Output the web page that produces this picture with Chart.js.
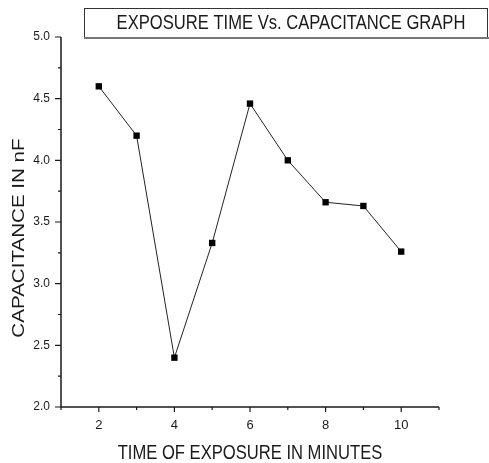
<!DOCTYPE html>
<html>
<head>
<meta charset="utf-8">
<title>Exposure Time Vs. Capacitance Graph</title>
<script src="https://cdn.jsdelivr.net/npm/chart.js@4.4.1/dist/chart.umd.min.js"></script>
<style>
html, body { margin: 0; padding: 0; background: #fff; }
#wrap { width: 489px; height: 463px; }
</style>
</head>
<body>
<div id="wrap"><canvas id="capChart" width="489" height="463"></canvas></div>
<script>

// ================================
// DATA
// ================================

const exposureMinutes = [2, 3, 4, 5, 6, 7, 8, 9, 10];
const capacitanceNF = [4.60, 4.20, 2.40, 3.33, 4.46, 4.00, 3.66, 3.63, 3.26];

const xTickValues = [2, 4, 6, 8, 10];
const xMinorValues = [1, 3, 5, 7, 9, 11];
const yTickValues = [2.0, 2.5, 3.0, 3.5, 4.0, 4.5, 5.0];
const yMinorValues = [2.25, 2.75, 3.25, 3.75, 4.25, 4.75];

const chartTitle = 'EXPOSURE TIME Vs. CAPACITANCE GRAPH';
const xTitle = 'TIME OF EXPOSURE IN MINUTES';
const yTitle = 'CAPACITANCE IN nF';


const sansFont = "'Liberation Sans', Arial, sans-serif";
const ink = '#1a1a1a';

Chart.defaults.font.family = sansFont;
Chart.defaults.color = ink;


// text squeezed / stretched along its own direction (no narrow font installed)
function scaledText(ctx, text, x, y, size, stretch, angle) {
  ctx.save();
  ctx.translate(x, y);
  ctx.rotate(angle);
  ctx.scale(stretch, 1);
  ctx.font = size + 'px ' + sansFont;
  ctx.textAlign = 'center';
  ctx.textBaseline = 'middle';
  ctx.fillText(text, 0, 0);
  ctx.restore();
}


// ================================
// AXES, TITLES + TITLE BOX
// ================================

const originAxes = {
  id: 'originAxes',
  afterDraw(chart) {
    const ctx = chart.ctx;
    const area = chart.chartArea;
    const xs = chart.scales.x;
    const ys = chart.scales.y;

    ctx.save();
    ctx.strokeStyle = ink;
    ctx.lineWidth = 1.5;

    // axis lines
    ctx.beginPath();
    ctx.moveTo(area.left, area.top);
    ctx.lineTo(area.left, area.bottom);
    ctx.lineTo(area.right, area.bottom);
    ctx.stroke();

    // x ticks, pointing down
    ctx.lineWidth = 1.2;
    ctx.beginPath();
    xTickValues.forEach(v => {
      const px = xs.getPixelForValue(v);
      ctx.moveTo(px, area.bottom);
      ctx.lineTo(px, area.bottom + 5);
    });
    xMinorValues.forEach(v => {
      const px = xs.getPixelForValue(v);
      ctx.moveTo(px, area.bottom);
      ctx.lineTo(px, area.bottom + 3);
    });

    // y ticks, pointing left
    yTickValues.forEach(v => {
      const py = ys.getPixelForValue(v);
      ctx.moveTo(area.left, py);
      ctx.lineTo(area.left - 6, py);
    });
    yMinorValues.forEach(v => {
      const py = ys.getPixelForValue(v);
      ctx.moveTo(area.left, py);
      ctx.lineTo(area.left - 3, py);
    });
    ctx.stroke();

    // title box
    ctx.lineWidth = 1;
    ctx.strokeStyle = '#333';
    ctx.strokeRect(84.5, 8.5, 403, 29);
    ctx.strokeStyle = '#777';
    ctx.lineWidth = 2;
    ctx.beginPath();
    ctx.moveTo(84, 38);
    ctx.lineTo(489, 38);
    ctx.stroke();

    ctx.fillStyle = ink;
    scaledText(ctx, chartTitle, 291, 23.5, 21, 0.79, 0);

    // axis titles
    scaledText(ctx, xTitle, (area.left + area.right) / 2, 453, 21, 0.79, 0);
    scaledText(ctx, yTitle, 19.5, 238, 17, 1.21, -Math.PI / 2);

    ctx.restore();
  }
};


// ================================
// CAPACITANCE LINE CHART
// ================================

const capChart = document.getElementById('capChart');

new Chart(capChart, {

  type: 'scatter',

  data: {
    datasets: [{
      label: 'Capacitance',
      data: exposureMinutes.map((m, i) => ({ x: m, y: capacitanceNF[i] })),
      showLine: true,
      borderColor: '#222',
      borderWidth: 1,
      pointStyle: 'rect',
      pointRadius: 4.5,
      pointHoverRadius: 4.5,
      pointBackgroundColor: '#000',
      pointBorderColor: '#000',
      pointBorderWidth: 0,
      clip: false
    }]
  },

  options: {
    responsive: false,
    animation: false,
    layout: {
      padding: { top: 37, right: 50, left: 0, bottom: 0 }
    },
    plugins: {
      legend: { display: false },
      tooltip: { enabled: false }
    },
    scales: {
      x: {
        type: 'linear',
        min: 1,
        max: 11,
        afterBuildTicks: axis => { axis.ticks = xTickValues.map(v => ({ value: v })); },
        afterFit: axis => { axis.height = 56; },
        grid: { display: false, drawTicks: false },
        border: { display: false },
        ticks: {
          padding: 11,
          font: { size: 13 },
          color: ink,
          callback: v => String(v)
        }
      },
      y: {
        type: 'linear',
        min: 2,
        max: 5,
        afterBuildTicks: axis => { axis.ticks = yTickValues.map(v => ({ value: v })); },
        afterFit: axis => { axis.width = 61; },
        grid: { display: false, drawTicks: false },
        border: { display: false },
        ticks: {
          padding: 11,
          font: { size: 12 },
          color: ink,
          callback: v => v.toFixed(1)
        }
      }
    }
  },

  plugins: [originAxes]

});

</script>
</body>
</html>
